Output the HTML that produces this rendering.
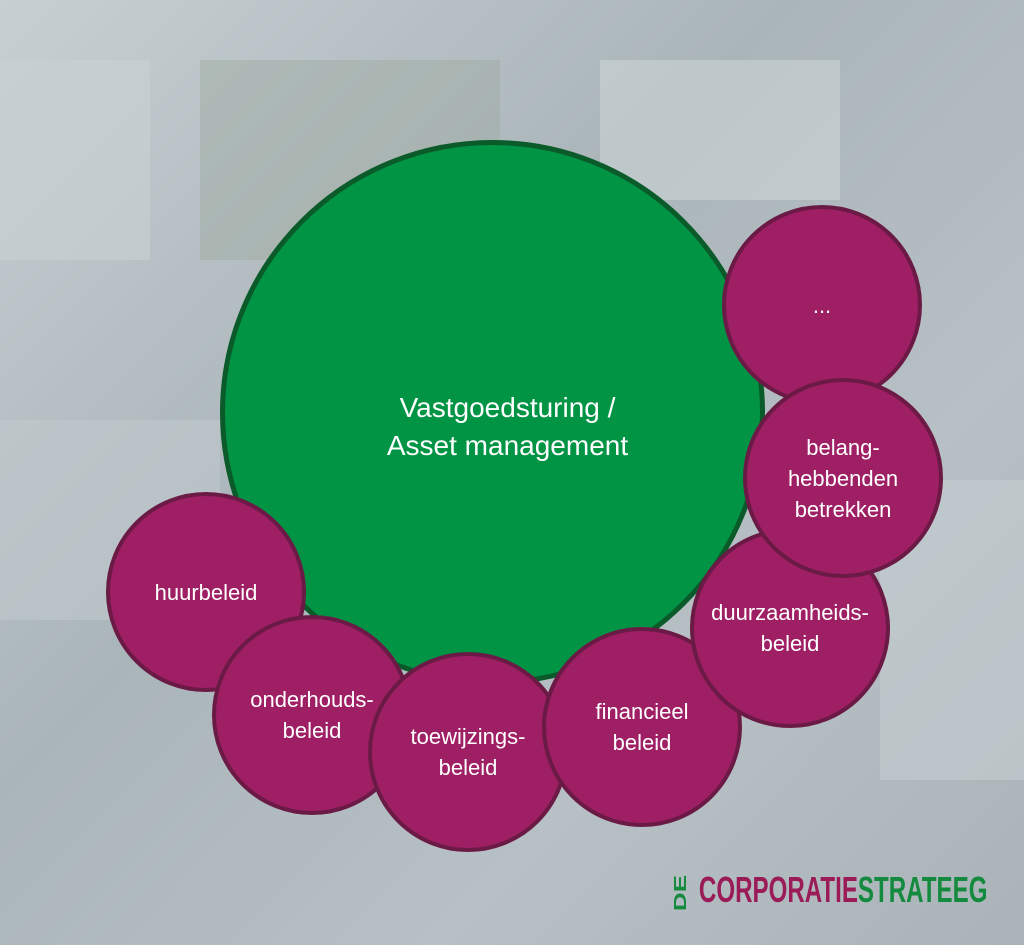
<!DOCTYPE html>
<html><head><meta charset="utf-8"><style>
html,body{margin:0;padding:0}
body{width:1024px;height:945px;position:relative;overflow:hidden;background:#b4bec3;font-family:"Liberation Sans",sans-serif}
.bg{position:absolute}
.c{position:absolute;border-radius:50%;box-sizing:border-box;display:flex;align-items:center;justify-content:center;text-align:center;color:#fff}
.p{background:#9e1f63;border:4px solid #6b1a46;width:200px;height:200px;font-size:22px;line-height:31px}
</style></head><body>
<div class="bg" style="left:0;top:0;width:1024px;height:945px;background:linear-gradient(135deg,#c7cfd2 0%,#aab5ba 40%,#b7c0c4 70%,#a9b3b8 100%)"></div>
<div class="bg" style="left:0;top:60px;width:150px;height:200px;background:#c9d0d3;opacity:.6"></div>
<div class="bg" style="left:600px;top:60px;width:240px;height:140px;background:#ccd3d6;opacity:.6"></div>
<div class="bg" style="left:0;top:420px;width:220px;height:200px;background:#bfc8cb;opacity:.6"></div>
<div class="bg" style="left:880px;top:480px;width:144px;height:300px;background:#c5cdd0;opacity:.6"></div>
<div class="bg" style="left:200px;top:60px;width:300px;height:200px;background:#9eab9f;opacity:.45"></div>
<div class="c" style="left:220px;top:140px;width:545px;height:545px;background:#009444;border:5px solid #0b5a2a;font-size:28px;line-height:38px"><div style="margin-top:28px;margin-left:30px">Vastgoedsturing /<br>Asset management</div></div>
<div class="c p" style="left:106px;top:492px">huurbeleid</div>
<div class="c p" style="left:212px;top:615px">onderhouds-<br>beleid</div>
<div class="c p" style="left:368px;top:652px">toewijzings-<br>beleid</div>
<div class="c p" style="left:542px;top:627px">financieel<br>beleid</div>
<div class="c p" style="left:690px;top:528px">duurzaamheids-<br>beleid</div>
<div class="c p" style="left:722px;top:205px">...</div>
<div class="c p" style="left:743px;top:378px">belang-<br>hebbenden<br>betrekken</div>
<div style="position:absolute;left:668px;top:870px;font-size:36px;font-weight:bold;letter-spacing:0px;transform:scaleX(0.67);transform-origin:left;white-space:nowrap;line-height:40px">
<span style="color:#138a3e;display:inline-block;transform:rotate(-90deg);font-size:26px">DE</span><span style="color:#9a1b57"> CORPORATIE</span><span style="color:#138a3e">STRATEEG</span></div>
</body></html>
